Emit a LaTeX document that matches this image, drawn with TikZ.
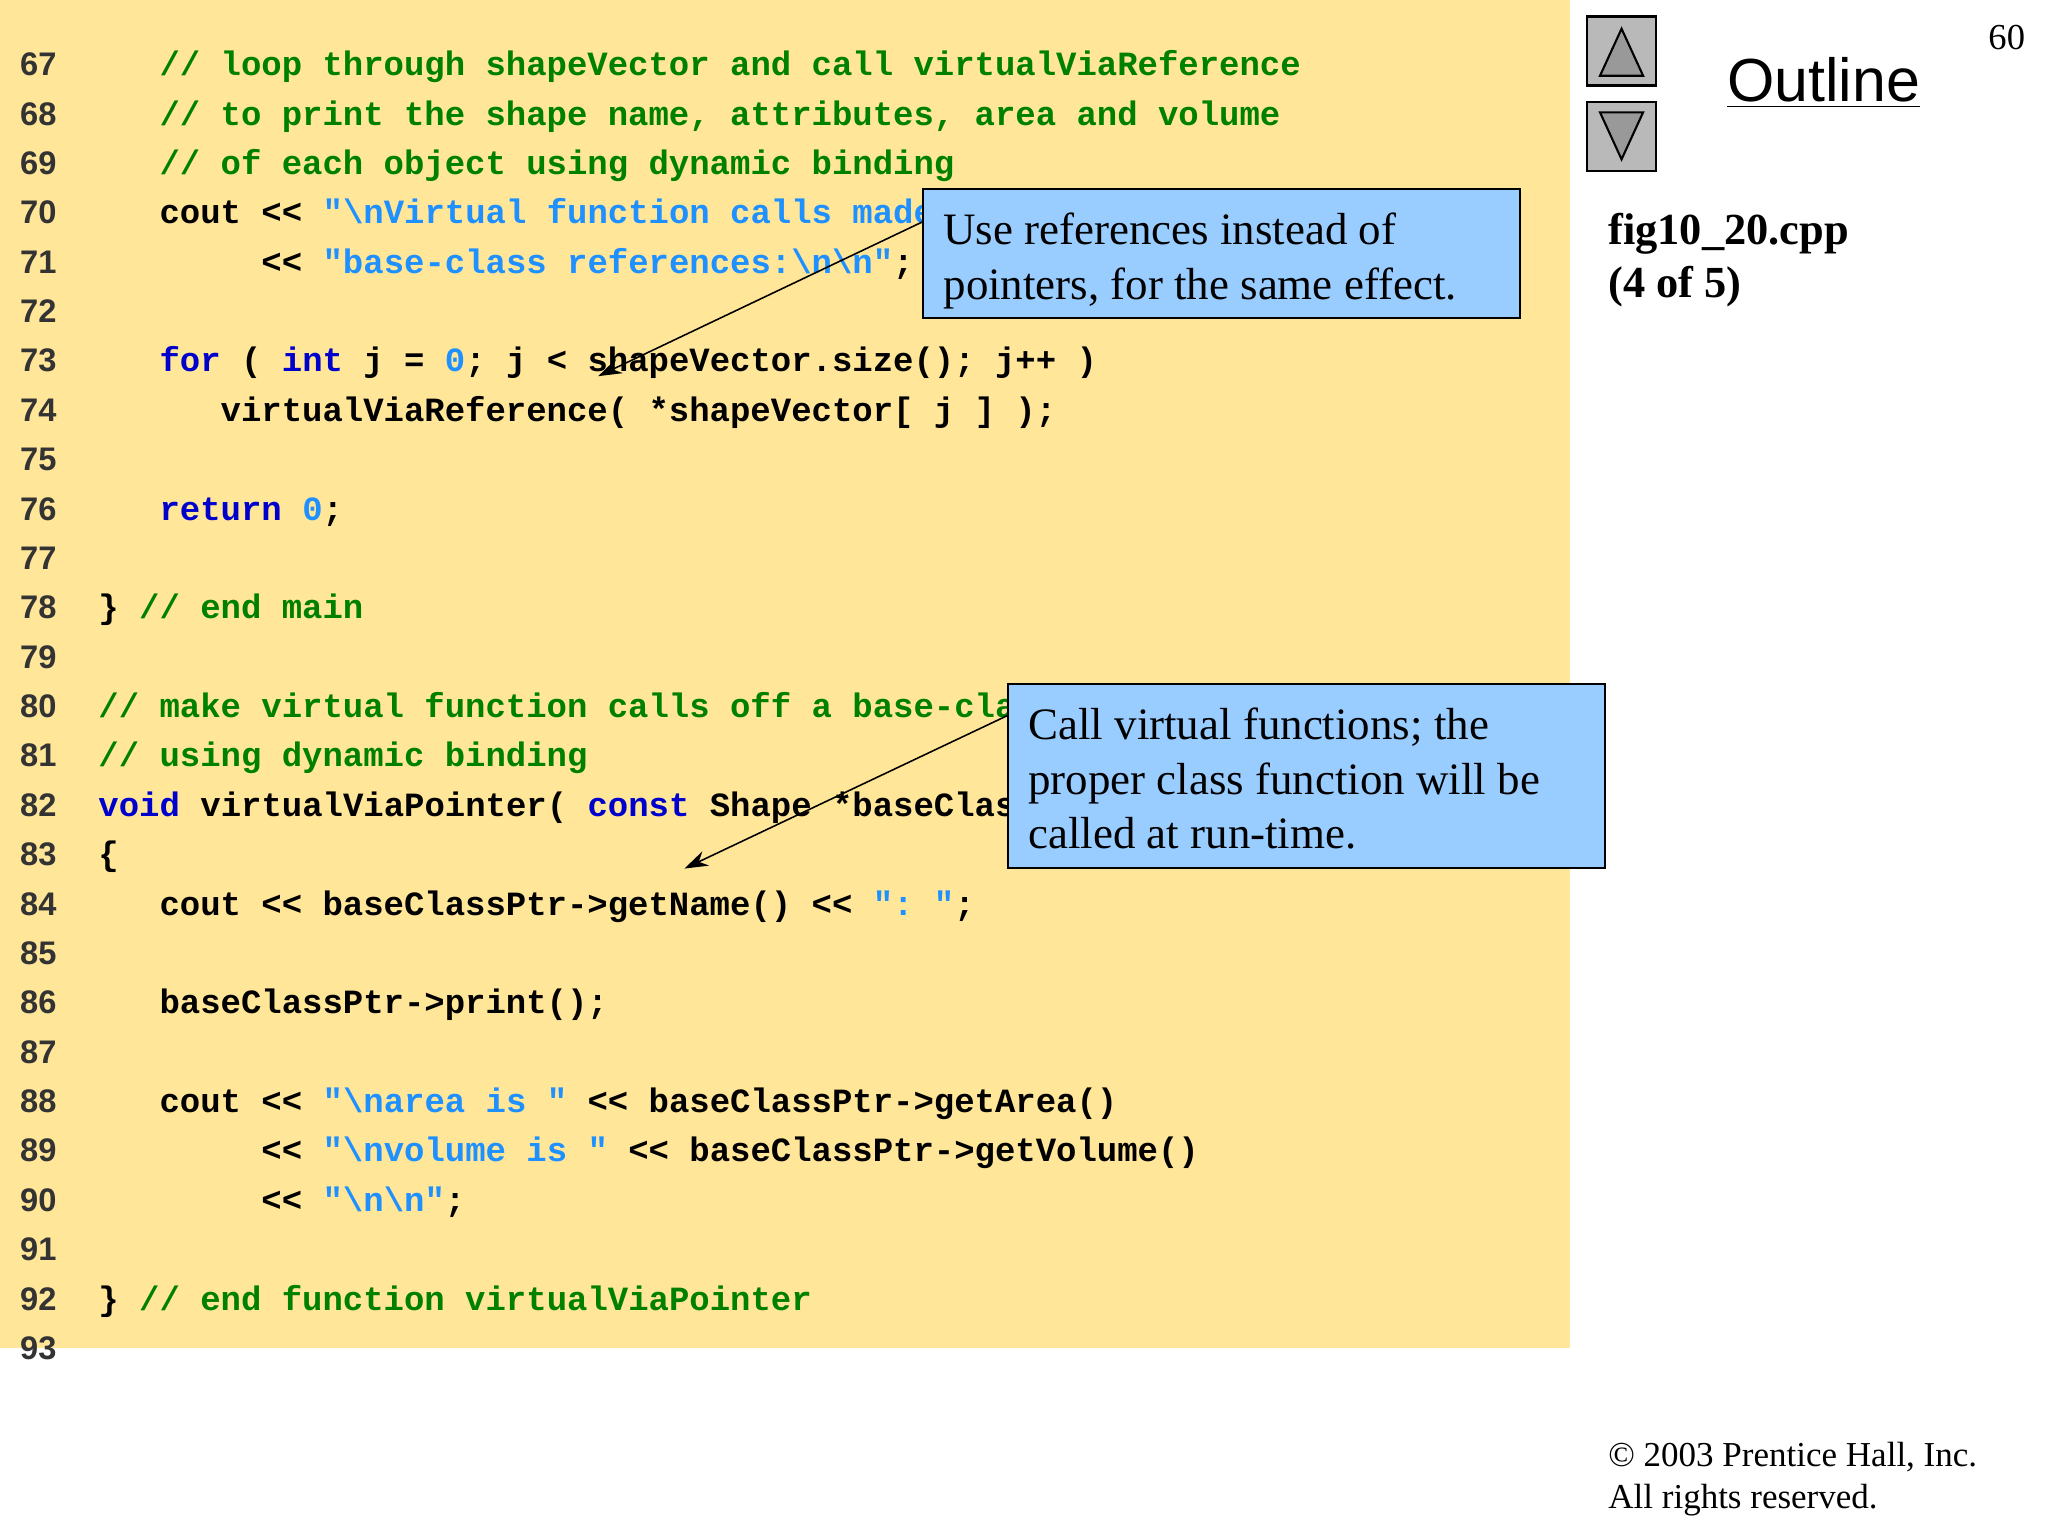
\documentclass[tikz,border=0pt]{standalone}
\usepackage{fontspec}
\setmainfont{Liberation Serif}
\setmonofont{Liberation Mono}
\newfontfamily\sans{Liberation Sans}
\usetikzlibrary{arrows.meta}
\definecolor{bgy}{HTML}{FFE699}
\definecolor{cmt}{HTML}{008000}
\definecolor{kw}{HTML}{0000CC}
\definecolor{st}{HTML}{1E90FF}
\definecolor{box}{HTML}{99CCFF}
\definecolor{lnum}{HTML}{333333}
\newcommand{\C}[1]{\textcolor{cmt}{#1}}
\newcommand{\K}[1]{\textcolor{kw}{#1}}
\newcommand{\Sg}[1]{\textcolor{st}{#1}}
\newcommand{\bs}{\textbackslash}
\tikzset{
 code/.style={anchor=base west,inner sep=0pt,font=\ttfamily\bfseries\fontsize{13}{13}\selectfont},
 lnum/.style={anchor=base west,inner sep=0pt,text=lnum,font=\sans\bfseries\fontsize{12.5}{12.5}\selectfont},
 callout/.style={draw=black,fill=box,line width=0.8pt,anchor=north west,inner sep=0pt},
 ctext/.style={anchor=base west,inner sep=0pt,font=\fontsize{17.2}{17.2}\selectfont},
 arr/.style={-{Stealth[length=9pt,width=6pt]},line width=0.6pt},
 btn/.style={draw=black,fill=gray!55,line width=1pt,minimum width=26.5pt,minimum height=26.5pt,inner sep=0pt},
}
\begin{document}
\begin{tikzpicture}[x=0.5pt,y=-0.5pt]
\useasboundingbox (0,0) rectangle (1568,1176);
\fill[bgy] (0,0) rectangle (1202,1032);
\foreach \n in {67,...,93}{
  \node[lnum] (n\n) at (15,{58+37.8*(\n-67)}) {\n};
}
\def\L#1#2#3{\node[code] (c#1) at ({75+15.6*#2},{58+37.8*(#1-67)}) {#3};}
\L{67}{3}{\C{// loop through shapeVector and call virtualViaReference}}
\L{68}{3}{\C{// to print the shape name, attributes, area and volume}}
\L{69}{3}{\C{// of each object using dynamic binding}}
\L{70}{3}{cout << \Sg{"\bs nVirtual function calls made off "}}
\L{71}{8}{<< \Sg{"base-class references:\bs n\bs n"};}
\L{73}{3}{\K{for} ( \K{int} j = \Sg{0}; j < shapeVector.size(); j++ )}
\L{74}{6}{virtualViaReference( *shapeVector[ j ] );}
\L{76}{3}{\K{return} \Sg{0};}
\L{78}{0}{\} \C{// end main}}
\L{80}{0}{\C{// make virtual function calls off a base-class pointer}}
\L{81}{0}{\C{// using dynamic binding}}
\L{82}{0}{\K{void} virtualViaPointer( \K{const} Shape *baseClassPtr )}
\L{83}{0}{\{}
\L{84}{3}{cout << baseClassPtr->getName() << \Sg{": "};}
\L{86}{3}{baseClassPtr->print();}
\L{88}{3}{cout << \Sg{"\bs narea is "} << baseClassPtr->getArea()}
\L{89}{8}{<< \Sg{"\bs nvolume is "} << baseClassPtr->getVolume()}
\L{90}{8}{<< \Sg{"\bs n\bs n"};}
\L{92}{0}{\} \C{// end function virtualViaPointer}}
% callouts
\node[callout,minimum width=228.5pt,minimum height=49.5pt] (b1) at (706,144) {};
\node[ctext] (t1a) at (722,187) {Use references instead of};
\node[ctext] (t1b) at (722,229) {pointers, for the same effect.};
\coordinate (a1) at (458,288);
\draw[arr] (b1.north west) ++(0,26) coordinate (s1) -- (a1);
\node[callout,minimum width=228.5pt,minimum height=70.5pt] (b2) at (771,523) {};
\node[ctext] (t2a) at (787,566) {Call virtual functions; the};
\node[ctext] (t2b) at (787,608) {proper class function will be};
\node[ctext] (t2c) at (787,650) {called at run-time.};
\coordinate (a2) at (524,665);
\draw[arr] (b2.north west) ++(0,25) coordinate (s2) -- (a2);
% nav
\node[btn] (up) at (1241.5,39) {};
\node[btn] (dn) at (1241.5,104.5) {};
\draw[fill=gray!80,line width=0.8pt] (1225,58) -- (1258,58) -- (1241.5,22) -- cycle;
\draw[fill=gray!80,line width=0.8pt] (1225,86) -- (1258,86) -- (1241.5,122) -- cycle;
\node[anchor=base west,inner sep=0pt,font=\sans\fontsize{23.3}{23.3}\selectfont] (outl) at (1322,78) {\underline{Outline}};
\node[anchor=base west,inner sep=0pt,font=\fontsize{14}{14}\selectfont] (pg) at (1522,38) {60};
\node[anchor=base west,inner sep=0pt,font=\bfseries\fontsize{17}{17}\selectfont] (f1) at (1231,187) {fig10\_20.cpp};
\node[anchor=base west,inner sep=0pt,font=\bfseries\fontsize{17}{17}\selectfont] (f2) at (1231,228) {(4 of 5)};
\node[anchor=base west,inner sep=0pt,font=\fontsize{13.4}{13.4}\selectfont] (cp1) at (1231,1123) {© 2003 Prentice Hall, Inc.};
\node[anchor=base west,inner sep=0pt,font=\fontsize{13.4}{13.4}\selectfont] (cp2) at (1231,1155) {All rights reserved.};
\end{tikzpicture}
\end{document}
